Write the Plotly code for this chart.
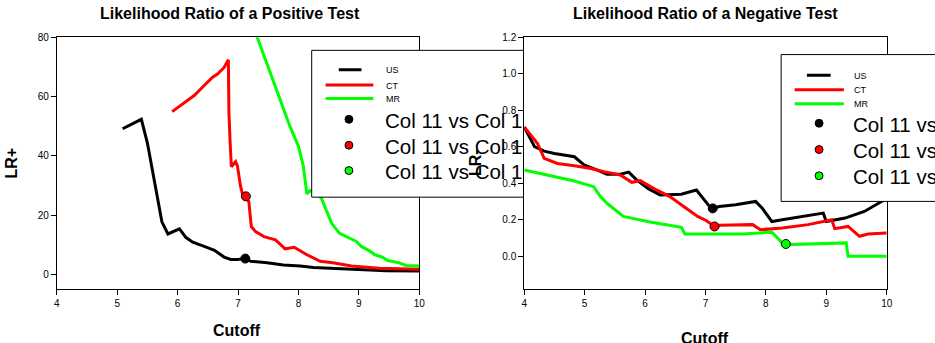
import plotly.graph_objects as go

W, H = 935, 343

# ---------------- data ----------------
# Likelihood ratio of a positive test (LR+)
us_pos_x = [5.09, 5.40, 5.50, 5.62, 5.74, 5.84, 6.03, 6.14, 6.25, 6.44, 6.61, 6.77, 6.88, 6.99, 7.12, 7.21, 7.48, 7.75, 8.03, 8.25, 8.47, 8.70, 9.02, 9.45, 10.0]
us_pos_y = [49.1, 52.3, 44.3, 31.0, 17.7, 13.6, 15.3, 12.4, 10.8, 9.4, 8.1, 5.8, 5.0, 5.0, 5.3, 4.4, 3.9, 3.1, 2.8, 2.3, 2.1, 1.9, 1.5, 1.2, 1.1]
ct_pos_x = [5.91, 6.06, 6.28, 6.44, 6.58, 6.66, 6.77, 6.84, 6.85, 6.87, 6.89, 6.96, 6.99, 7.04, 7.08, 7.13, 7.18, 7.22, 7.29, 7.43, 7.62, 7.78, 7.93, 8.14, 8.36, 8.57, 8.74, 8.88, 9.34, 10.0]
ct_pos_y = [54.9, 57.1, 60.4, 63.7, 66.5, 67.6, 69.8, 72.4, 54.3, 44.3, 36.3, 38.0, 36.6, 29.9, 26.6, 26.3, 24.4, 16.1, 14.4, 12.7, 11.6, 8.6, 9.1, 6.6, 4.4, 3.9, 3.3, 2.8, 2.0, 1.7]
mr_pos_x = [7.30, 7.54, 7.70, 7.86, 8.00, 8.08, 8.14, 8.19, 8.38, 8.46, 8.55, 8.68, 8.85, 8.96, 9.04, 9.17, 9.26, 9.39, 9.48, 9.67, 9.78, 10.0]
mr_pos_y = [81.0, 67.6, 58.7, 49.9, 43.2, 36.6, 27.1, 28.3, 25.7, 21.6, 17.2, 13.8, 12.2, 11.1, 9.4, 8.0, 6.65, 5.75, 4.65, 3.86, 3.0, 2.76]
pos_pts_x = [7.12, 7.13]
pos_pts_y = [5.3, 26.3]
pos_pts_c = ["#000000", "#ff0000"]

# Likelihood ratio of a negative test (LR-)
us_neg_x = [4.0, 4.17, 4.33, 4.50, 4.83, 4.99, 5.21, 5.37, 5.59, 5.73, 5.86, 6.06, 6.25, 6.60, 6.85, 7.07, 7.12, 7.23, 7.50, 7.83, 7.94, 8.10, 8.27, 8.60, 8.95, 9.00, 9.31, 9.63, 9.91, 10.0]
us_neg_y = [0.708, 0.60, 0.576, 0.563, 0.545, 0.50, 0.472, 0.449, 0.449, 0.461, 0.418, 0.369, 0.336, 0.34, 0.363, 0.272, 0.262, 0.272, 0.282, 0.30, 0.263, 0.19, 0.20, 0.218, 0.236, 0.19, 0.209, 0.245, 0.30, 0.316]
ct_neg_x = [4.0, 4.11, 4.22, 4.33, 4.55, 4.83, 5.10, 5.32, 5.59, 5.78, 5.92, 6.19, 6.41, 6.68, 6.87, 7.01, 7.15, 7.23, 7.78, 7.91, 8.27, 8.70, 9.09, 9.14, 9.36, 9.55, 9.69, 10.0]
ct_neg_y = [0.708, 0.663, 0.618, 0.536, 0.508, 0.496, 0.481, 0.463, 0.445, 0.405, 0.414, 0.363, 0.327, 0.263, 0.218, 0.196, 0.163, 0.169, 0.173, 0.145, 0.154, 0.173, 0.20, 0.151, 0.163, 0.109, 0.122, 0.127]
mr_neg_x = [4.0, 4.44, 4.83, 5.15, 5.26, 5.37, 5.64, 6.08, 6.60, 6.66, 7.61, 8.10, 8.27, 8.33, 8.43, 9.33, 9.36, 10.0]
mr_neg_y = [0.472, 0.441, 0.412, 0.381, 0.327, 0.29, 0.218, 0.187, 0.158, 0.122, 0.122, 0.131, 0.073, 0.067, 0.064, 0.073, 0.0, 0.0]
neg_pts_x = [7.12, 7.15, 8.33]
neg_pts_y = [0.262, 0.163, 0.067]
neg_pts_c = ["#000000", "#ff0000", "#00ff00"]

series_names = ["US", "CT", "MR"]
series_colors = ["#000000", "#ff0000", "#00ff00"]
point_label = "Col 11 vs Col 1"
x_ticks = [4, 5, 6, 7, 8, 9, 10]
pos_ticks = [0, 20, 40, 60, 80]
neg_ticks = [0.0, 0.2, 0.4, 0.6, 0.8, 1.0, 1.2]

FONT = "Arial, Liberation Sans, sans-serif"


def px(x):
    return x / W


def py(y):
    return 1 - y / H


fig = go.Figure()

for xs, ys, c in [(us_pos_x, us_pos_y, series_colors[0]),
                  (ct_pos_x, ct_pos_y, series_colors[1]),
                  (mr_pos_x, mr_pos_y, series_colors[2])]:
    fig.add_trace(go.Scatter(x=xs, y=ys, mode="lines", line=dict(color=c, width=3),
                             xaxis="x", yaxis="y", showlegend=False, hoverinfo="skip"))
fig.add_trace(go.Scatter(x=pos_pts_x, y=pos_pts_y, mode="markers",
                         marker=dict(color=pos_pts_c, size=9, line=dict(color="black", width=1)),
                         xaxis="x", yaxis="y", showlegend=False))

for xs, ys, c in [(us_neg_x, us_neg_y, series_colors[0]),
                  (ct_neg_x, ct_neg_y, series_colors[1]),
                  (mr_neg_x, mr_neg_y, series_colors[2])]:
    fig.add_trace(go.Scatter(x=xs, y=ys, mode="lines", line=dict(color=c, width=3),
                             xaxis="x2", yaxis="y2", showlegend=False, hoverinfo="skip"))
fig.add_trace(go.Scatter(x=neg_pts_x, y=neg_pts_y, mode="markers",
                         marker=dict(color=neg_pts_c, size=9, line=dict(color="black", width=1)),
                         xaxis="x2", yaxis="y2", showlegend=False))

axis_common = dict(showline=True, linecolor="black", linewidth=1, mirror=True,
                   ticks="outside", ticklen=5, tickcolor="black", tickwidth=1,
                   showgrid=False, zeroline=False,
                   tickfont=dict(family=FONT, size=10, color="black"))

ydom = [py(287.7), py(32.7)]
fig.update_layout(
    width=W, height=H, margin=dict(l=0, r=0, t=0, b=0),
    paper_bgcolor="white", plot_bgcolor="white", showlegend=False,
    xaxis=dict(domain=[px(54.3), px(420.3)], range=[4, 10], tickvals=x_ticks, anchor="y", **axis_common),
    yaxis=dict(domain=ydom, range=[-4.8, 80], tickvals=pos_ticks, anchor="x", **axis_common),
    xaxis2=dict(domain=[px(526.3), px(892.3)], range=[4, 10], tickvals=x_ticks, anchor="y2", **axis_common),
    yaxis2=dict(domain=ydom, range=[-0.177, 1.2], tickvals=neg_ticks, tickformat=".1f", anchor="x2", **axis_common),
)

shapes = []
annotations = []


def line(x0, y0, x1, y1, color="black", width=1):
    shapes.append(dict(type="line", xref="paper", yref="paper", x0=px(x0), y0=py(y0),
                       x1=px(x1), y1=py(y1), line=dict(color=color, width=width), layer="above"))


def rect(x0, y0, x1, y1, border=True):
    shapes.append(dict(type="rect", xref="paper", yref="paper", x0=px(x0), y0=py(y0),
                       x1=px(x1), y1=py(y1), fillcolor="white",
                       line=dict(color="black", width=1 if border else 0), layer="above"))


def dot(x, y, color, d=8):
    shapes.append(dict(type="circle", xref="paper", yref="paper",
                       x0=px(x - d / 2), x1=px(x + d / 2), y0=py(y + d / 2), y1=py(y - d / 2),
                       fillcolor=color, line=dict(color="black", width=1), layer="above"))


def text(x, y, s, size, bold=False, xanchor="left", angle=0):
    annotations.append(dict(xref="paper", yref="paper", x=px(x), y=py(y), text=("<b>%s</b>" % s) if bold else s,
                            showarrow=False, xanchor=xanchor, yanchor="middle", textangle=angle,
                            font=dict(family=FONT, size=size, color="black")))


# ---- left legend (partly hidden behind right panel) ----
rect(311.7, 46, 423, 195, border=False)
line(311.7, 46, 526, 46)
line(311.7, 195, 526, 195)
line(311.7, 46, 311.7, 195)
leg_l = [(339, 362, 65.7), (325.7, 374, 81.3), (325.7, 374, 95)]
for (a, b, yy), c, n in zip(leg_l, series_colors, series_names):
    line(a, yy, b, yy, c, 3)
    text(385, yy + 0.5, n, 9)
for yy, c in zip([116, 142.3, 168], series_colors):
    dot(349.3, yy, c)
    text(384, yy + 1, point_label, 20.5)

# ---- right legend (runs past the page edge) ----
rect(785.7, 50.3, 945, 199.3)
leg_r = [(811.7, 835.7, 71.3), (799.3, 849, 86), (799.3, 849, 100.3)]
for (a, b, yy), c, n in zip(leg_r, series_colors, series_names):
    line(a, yy, b, yy, c, 3)
    text(857, yy + 0.5, n, 9)
for yy, c in zip([120, 146.7, 173.3], series_colors):
    dot(824, yy, c)
    text(856, yy + 1, point_label, 20.5)

# ---- titles ----
text(229, 8.5, "Likelihood Ratio of a Positive Test", 16, bold=True, xanchor="center")
text(709, 8.5, "Likelihood Ratio of a Negative Test", 16, bold=True, xanchor="center")
text(236.7, 330, "Cutoff", 16, bold=True, xanchor="center")
text(709, 338, "Cutoff", 16, bold=True, xanchor="center")
text(9, 160, "LR+", 16, bold=True, xanchor="center", angle=-90)
text(477, 160, "LR-", 16, bold=True, xanchor="center", angle=-90)

fig.update_layout(shapes=shapes, annotations=annotations)
fig.write_html("out.html")
